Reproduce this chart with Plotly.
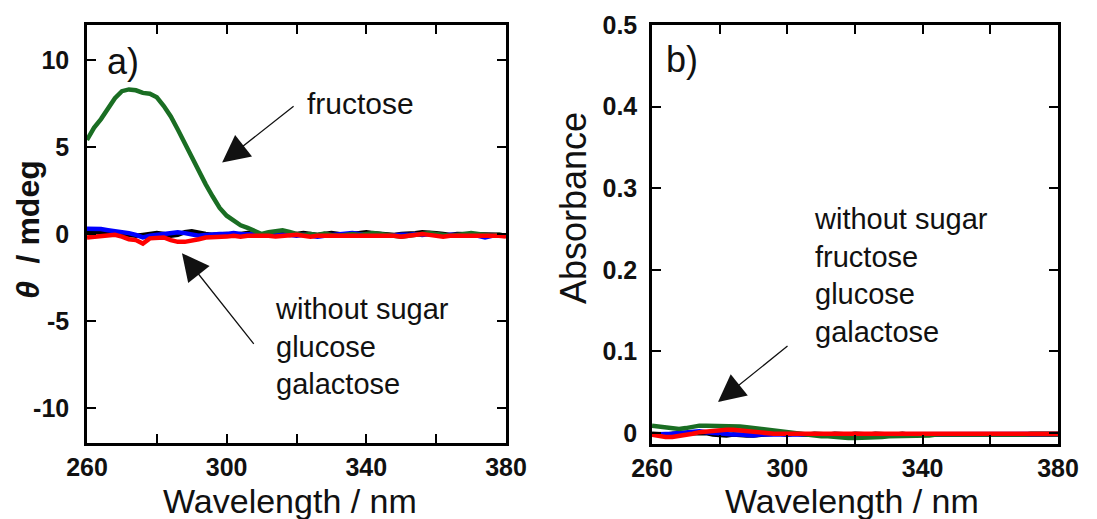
import plotly.graph_objects as go

# ---------------- data ----------------
wavelength = list(range(260, 381, 2))

cd_without_sugar = [0.15, 0.1, 0.1, 0.05, 0.05, 0.0, -0.05, -0.1, -0.05, 0.0,
                    0.05, 0.0, -0.1, -0.05, 0.1, 0.15, 0.05, 0.0, -0.05, 0.0,
                    0.0, -0.05, 0.0, 0.05, 0.0, -0.1, 0.0, 0.05, 0.0, -0.05,
                    0.0, 0.05, 0.0, -0.05, 0.0, 0.05, 0.0, -0.05, 0.0, 0.05,
                    0.1, 0.05, 0.0, 0.0, -0.05, 0.0, 0.0, 0.05, 0.1, 0.1,
                    0.05, 0.0, -0.05, 0.0, 0.0, -0.05, 0.0, 0.0, -0.05, -0.05, -0.1]
cd_glucose = [0.3, 0.3, 0.28, 0.22, 0.18, 0.12, 0.05, -0.05, -0.2, -0.1,
              -0.05, 0.0, 0.05, 0.1, 0.05, -0.05, -0.1, -0.05, 0.0, 0.0,
              0.0, 0.05, 0.0, 0.0, 0.0, -0.05, -0.05, 0.0, -0.05, -0.05,
              -0.1, -0.05, -0.1, -0.15, -0.1, -0.05, -0.05, 0.0, 0.05, 0.0,
              0.0, -0.05, -0.05, -0.1, -0.05, -0.05, -0.05, 0.0, -0.05, 0.0,
              -0.05, -0.1, -0.05, -0.05, -0.1, -0.1, -0.1, -0.2, -0.1, -0.1, -0.1]
cd_fructose = [5.4, 6.1, 6.6, 7.2, 7.8, 8.2, 8.3, 8.25, 8.1, 8.05,
               7.85, 7.35, 6.75, 6.0, 5.2, 4.45, 3.65, 2.85, 2.15, 1.5,
               1.05, 0.75, 0.5, 0.35, 0.15, 0.0, 0.1, 0.15, 0.22, 0.12,
               0.0, -0.05, 0.0, -0.05, 0.02, -0.05, -0.1, -0.05, 0.0, -0.05,
               0.02, 0.05, 0.0, -0.05, -0.1, -0.15, -0.1, -0.05, 0.0, 0.05,
               0.0, -0.05, -0.1, -0.05, 0.0, 0.05, 0.0, -0.05, -0.1, -0.05, -0.1]
cd_galactose = [-0.2, -0.15, -0.15, -0.1, -0.05, -0.15, -0.3, -0.35, -0.55, -0.25,
                -0.2, -0.2, -0.35, -0.45, -0.45, -0.4, -0.3, -0.2, -0.2, -0.15,
                -0.15, -0.1, -0.15, -0.1, -0.1, -0.05, -0.1, -0.15, -0.1, -0.1,
                -0.05, -0.1, -0.15, -0.1, -0.1, -0.05, -0.1, -0.05, -0.1, -0.05,
                -0.05, -0.1, -0.1, -0.05, -0.1, -0.15, -0.1, -0.05, 0.0, -0.05,
                -0.1, -0.15, -0.1, -0.1, -0.05, -0.1, -0.1, -0.05, -0.1, -0.1, -0.15]

abs_without_sugar = [-0.001, -0.002, -0.002, -0.001, -0.001, 0.0, 0.0, 0.0, 0.0, -0.002,
                     -0.003, -0.003, -0.002, -0.003, -0.003, -0.003, -0.002, -0.002, -0.001, -0.001,
                     -0.002, -0.001, -0.002, -0.002, -0.001, -0.002, -0.002, -0.001, -0.002, -0.002,
                     -0.001, -0.002, -0.002, -0.001, -0.002, -0.002, -0.002, -0.001, -0.002, -0.002,
                     -0.001, -0.002, -0.002, -0.001, -0.002, -0.002, -0.001, -0.002, -0.002, -0.001,
                     -0.002, -0.002, -0.001, -0.002, -0.002, -0.001, -0.002, -0.002, -0.001, -0.002, -0.002]
abs_glucose = [-0.002, -0.002, -0.001, -0.001, 0.0, 0.001, 0.002, 0.002, 0.001, 0.0,
               -0.001, -0.002, -0.002, -0.002, -0.003, -0.003, -0.002, -0.002, -0.002, -0.002,
               -0.002, -0.002, -0.002, -0.002, -0.001, -0.002, -0.001, -0.002, -0.001, -0.001,
               -0.002, -0.001, -0.001, -0.002, -0.001, -0.001, -0.002, -0.001, -0.001, -0.002,
               -0.001, -0.001, -0.002, -0.001, -0.001, -0.002, -0.001, -0.001, -0.002, -0.001,
               -0.001, -0.002, -0.001, -0.001, -0.002, -0.001, -0.001, -0.002, -0.001, -0.001, -0.001]
abs_fructose = [0.009, 0.008, 0.006, 0.005, 0.005, 0.006, 0.008, 0.009, 0.009, 0.009,
                0.009, 0.009, 0.009, 0.008, 0.007, 0.006, 0.004, 0.003, 0.002, 0.001,
                0.0, -0.001, -0.001, -0.002, -0.003, -0.004, -0.004, -0.005, -0.005, -0.006,
                -0.006, -0.006, -0.005, -0.005, -0.005, -0.004, -0.004, -0.004, -0.003, -0.003,
                -0.003, -0.003, -0.002, -0.002, -0.002, -0.002, -0.002, -0.003, -0.003, -0.002,
                -0.002, -0.002, -0.002, -0.003, -0.002, -0.002, -0.001, -0.001, -0.001, -0.001, -0.001]
abs_galactose = [-0.002, -0.004, -0.005, -0.005, -0.004, -0.003, -0.001, 0.001, 0.002, 0.003,
                 0.004, 0.004, 0.004, 0.003, 0.002, 0.001, 0.0, 0.0, -0.001, -0.001,
                 -0.001, -0.001, -0.002, -0.001, -0.001, -0.002, -0.001, -0.001, -0.002, -0.001,
                 -0.001, -0.002, -0.001, -0.001, -0.002, -0.001, -0.001, -0.001, -0.002, -0.001,
                 -0.001, -0.002, -0.001, -0.001, -0.001, -0.002, -0.001, -0.001, -0.002, -0.001,
                 -0.001, -0.001, -0.002, -0.001, -0.001, -0.002, -0.001, -0.001, -0.001, -0.001, -0.001]

series_names = ["without sugar", "glucose", "fructose", "galactose"]
series_colors = ["#000000", "#0000ff", "#1a6e23", "#ff0000"]

x_tickvals = [260, 300, 340, 380]
x_ticktext = ["260", "300", "340", "380"]
cd_tickvals = [-10, -5, 0, 5, 10]
cd_ticktext = ["-10", "-5", "0", "5", "10"]
abs_tickvals = [0, 0.1, 0.2, 0.3, 0.4, 0.5]
abs_ticktext = ["0", "0.1", "0.2", "0.3", "0.4", "0.5"]

W, H = 1097, 519
FONT = "Liberation Sans, Arial, sans-serif"

fig = go.Figure()
cd_data = [cd_without_sugar, cd_glucose, cd_fructose, cd_galactose]
abs_data = [abs_without_sugar, abs_glucose, abs_fructose, abs_galactose]
for name, col, ys in zip(series_names, series_colors, cd_data):
    fig.add_trace(go.Scatter(x=wavelength, y=ys, mode="lines", name=name,
                             line=dict(color=col, width=4.5), xaxis="x", yaxis="y"))
for name, col, ys in zip(series_names, series_colors, abs_data):
    fig.add_trace(go.Scatter(x=wavelength, y=ys, mode="lines", name=name,
                             line=dict(color=col, width=4.5), xaxis="x2", yaxis="y2"))

def px_x(p):
    return p / W

def px_y(p):
    return 1 - p / H

common_axis = dict(showline=True, linecolor="black", linewidth=2.5, mirror="allticks",
                   ticks="inside", ticklen=9, tickwidth=2, tickcolor="black",
                   showgrid=False, zeroline=False, automargin=False,
                   tickfont=dict(family=FONT, size=25, color="#111", weight="bold"))
minor_x = dict(dtick=20, tick0=260, ticks="inside", ticklen=9, tickwidth=2,
               tickcolor="black", showgrid=False)

fig.update_layout(
    width=W, height=H, margin=dict(l=0, r=0, t=0, b=0, autoexpand=False),
    paper_bgcolor="white", plot_bgcolor="white", showlegend=False,
    xaxis=dict(domain=[px_x(87), px_x(506)], range=[260, 380], anchor="y",
               tickvals=x_tickvals, ticktext=x_ticktext, minor=minor_x,
               ticklabelstandoff=0, **common_axis),
    yaxis=dict(domain=[px_y(443), px_y(25)], range=[-12, 12], anchor="x",
               tickvals=cd_tickvals, ticktext=cd_ticktext,
               ticklabelstandoff=10, **common_axis),
    xaxis2=dict(domain=[px_x(652), px_x(1058)], range=[260, 380], anchor="y2",
                tickvals=x_tickvals, ticktext=x_ticktext, minor=minor_x,
                ticklabelstandoff=0, **common_axis),
    yaxis2=dict(domain=[px_y(444), px_y(25)], range=[-0.0135, 0.5], anchor="x2",
                tickvals=abs_tickvals, ticktext=abs_ticktext,
                ticklabelstandoff=7, **common_axis),
)

txt = dict(family=FONT, color="#111")
ann = []
def paper_text(text, x, y, size, xanchor="left", angle=0, bold=False, align="left"):
    ann.append(dict(text=text, x=px_x(x), y=px_y(y), xref="paper", yref="paper",
                    xanchor=xanchor, yanchor="middle", showarrow=False, textangle=angle,
                    align=align, font=dict(size=size, weight="bold" if bold else "normal", **txt)))

paper_text("a)", 105, 62, 36)
paper_text("b)", 664, 60, 36)
paper_text("fructose", 305, 103, 30)
paper_text("without sugar<br>glucose<br>galactose", 273, 346, 29)
paper_text("without sugar<br>fructose<br>glucose<br>galactose", 812, 275, 29)
paper_text("Wavelength / nm", 290, 501, 34, xanchor="center")
paper_text("Wavelength / nm", 852, 501, 34, xanchor="center")
paper_text("<i>θ</i>  / mdeg", 28, 230, 32, xanchor="center", angle=-90, bold=True)
paper_text("Absorbance", 573, 208, 36, xanchor="center", angle=-90)

def arrow(xh, yh, xt, yt, xr, yr):
    ann.append(dict(text="", x=xh, y=yh, ax=xt, ay=yt, xref=xr, yref=yr, axref=xr, ayref=yr,
                    showarrow=True, arrowhead=2, arrowsize=4.2, arrowwidth=1.3,
                    arrowcolor="#111", standoff=0))

arrow(298.7, 4.1, 319.6, 7.4, "x", "y")
arrow(287.2, -1.1, 308.1, -6.4, "x", "y")
arrow(279.5, 0.038, 300.5, 0.108, "x2", "y2")

fig.update_layout(annotations=ann)
fig.write_html("out.html")
